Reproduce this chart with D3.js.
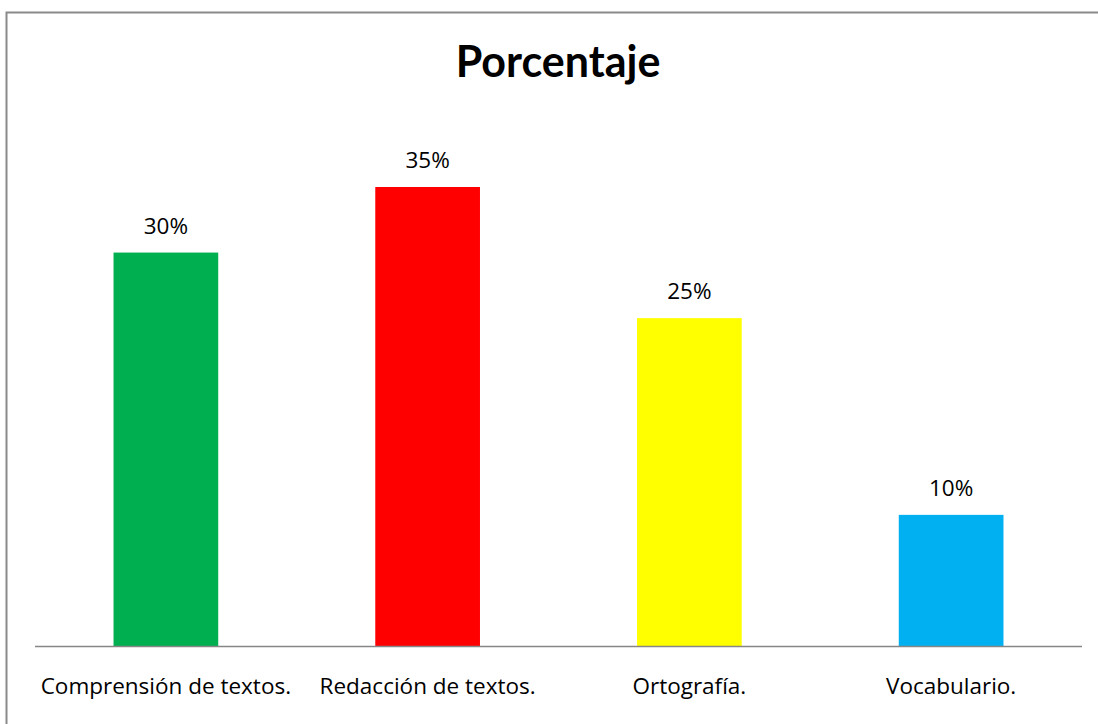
<!DOCTYPE html>
<html>
<head>
<meta charset="utf-8">
<script src="https://cdn.jsdelivr.net/npm/d3@7"></script>
<style>
  body { margin: 0; background: #fff; }
  svg { display: block; font-family: "Open Sans", Lato, sans-serif; }
</style>
</head>
<body>
<svg id="chart" width="1098" height="724"></svg>
<script>
// chart data
const categories = ['Comprensión de textos.', 'Redacción de textos.', 'Ortografía.', 'Vocabulario.'];
const values = [30, 35, 25, 10];
const value_labels = ['30%', '35%', '25%', '10%'];
const bar_colors = ['#00B050', '#FF0000', '#FFFF00', '#00B0F0'];
const title = 'Porcentaje';

// layout
const x_left = 35;
const x_right = 1082;
const y_base = 646;
const y_top = 187;

let svg = d3.select('#chart');

// outer frame (only top/left edges fall inside the picture)
svg.append('path')
    .attr('d', `M6.5,724 V12.5 H1098`)
    .attr('fill', 'none')
    .attr('stroke', '#8a8a8a')
    .attr('stroke-width', 2);

let x_scale = d3.scaleBand()
    .domain(categories)
    .range([x_left, x_right])
    .paddingInner(0.6)
    .paddingOuter(0.3);

let y_scale = d3.scaleLinear()
    .domain([0, 35])
    .range([y_base, y_top]);

// bars
svg.append('g')
    .selectAll('rect')
    .data(categories)
    .enter()
    .append('rect')
    .attr('x', (d) => x_scale(d))
    .attr('y', (d, i) => y_scale(values[i]))
    .attr('width', x_scale.bandwidth())
    .attr('height', (d, i) => y_base - y_scale(values[i]))
    .attr('fill', (d, i) => bar_colors[i]);

// value labels
svg.append('g')
    .selectAll('text')
    .data(categories)
    .enter()
    .append('text')
    .attr('x', (d) => x_scale(d) + x_scale.bandwidth() / 2)
    .attr('y', (d, i) => y_scale(values[i]) - 19)
    .attr('text-anchor', 'middle')
    .style('font-size', '22.5px')
    .style('fill', '#000')
    .text((d, i) => value_labels[i]);

// x axis line + category labels
svg.append('line')
    .attr('x1', x_left)
    .attr('x2', x_right)
    .attr('y1', y_base + 0.5)
    .attr('y2', y_base + 0.5)
    .attr('stroke', '#868686')
    .attr('stroke-width', 1.5);

svg.append('g')
    .selectAll('text')
    .data(categories)
    .enter()
    .append('text')
    .attr('x', (d) => x_scale(d) + x_scale.bandwidth() / 2)
    .attr('y', 694)
    .attr('text-anchor', 'middle')
    .style('font-size', '22.5px')
    .style('fill', '#000')
    .text((d) => d);

// title
svg.append('text')
    .attr('x', 558)
    .attr('y', 77)
    .attr('text-anchor', 'middle')
    .style('font-family', 'Lato, sans-serif')
    .style('font-size', '43px')
    .style('font-weight', 'bold')
    .style('fill', '#000')
    .text(title);
</script>
</body>
</html>
